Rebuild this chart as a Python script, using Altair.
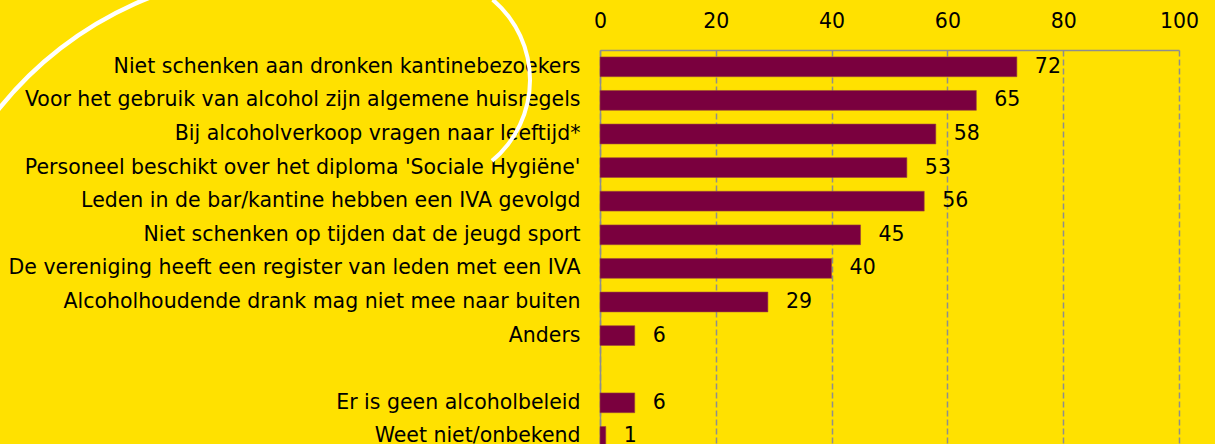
import altair as alt
import pandas as pd

NBSP = "\u00a0"
categories = [
    "Niet schenken aan dronken kantinebezoekers" + NBSP,
    "Voor het gebruik van alcohol zijn algemene huisregels" + NBSP,
    "Bij alcoholverkoop vragen naar leeftijd*",
    "Personeel beschikt over het diploma 'Sociale Hygiëne'",
    "Leden in de bar/kantine hebben een IVA gevolgd",
    "Niet schenken op tijden dat de jeugd sport",
    "De vereniging heeft een register van leden met een IVA",
    "Alcoholhoudende drank mag niet mee naar buiten",
    "Anders",
    "Er is geen alcoholbeleid",
    "Weet niet/onbekend",
]
values = [72, 65, 58, 53, 56, 45, 40, 29, 6, 6, 1]
BLANK = " "
domain_order = categories[:9] + [BLANK] + categories[9:]
x_ticks = [0, 20, 40, 60, 80, 100]

BG = "#FFE100"
BAR = "#7A003E"
GRID = "#8E8E8E"
FONT = "DejaVu Sans"
FS = 20.5

df = pd.DataFrame({"cat": categories, "val": values})

W = 579
H = 12 * 33.6

y_enc = alt.Y(
    "cat:N",
    sort=domain_order,
    scale=alt.Scale(domain=domain_order, paddingInner=0.41, paddingOuter=0.205),
    axis=alt.Axis(
        title=None, ticks=False, labelFontSize=FS, labelFont=FONT, labelColor="#000000",
        labelLimit=800, labelPadding=20, domainColor=GRID, domainWidth=1.5,
    ),
)
x_enc = alt.X(
    "val:Q",
    scale=alt.Scale(domain=[0, 100], nice=False),
    axis=alt.Axis(
        orient="top", title=None, values=x_ticks, grid=True, gridDash=[6, 3],
        gridColor=GRID, gridWidth=1.5, domainColor=GRID, domainWidth=1.5, ticks=False,
        labelFontSize=FS, labelFont=FONT, labelColor="#000000", labelPadding=18,
        labelFlush=False,
    ),
)

one = alt.Data(values=[{"k": 1}])
arc_left = alt.Chart(one).mark_arc(color="#FFFFFF").encode(
    x=alt.value(-317), y=alt.value(286),
    radius=alt.value(366), radius2=alt.value(361.5),
    theta=alt.value(5.15), theta2=alt.value(6.1),
)
arc_right = alt.Chart(one).mark_arc(color="#FFFFFF").encode(
    x=alt.value(-175), y=alt.value(30),
    radius=alt.value(107), radius2=alt.value(103),
    theta=alt.value(0.7), theta2=alt.value(2.45),
)

bars = alt.Chart(df).mark_bar(color=BAR, stroke="#9A4A3A", strokeWidth=0.6).encode(
    x=x_enc, y=y_enc
)
labels = alt.Chart(df).mark_text(
    align="left", baseline="middle", dx=18, fontSize=FS, font=FONT, color="#000000"
).encode(x="val:Q", y=alt.Y("cat:N", sort=domain_order), text="val:Q")

chart = alt.layer(arc_left, arc_right, bars, labels).properties(
    width=W, height=H,
    autosize=alt.AutoSizeParams(type="none"),
    padding={"left": 600, "top": 50, "right": 36, "bottom": 0},
    background=BG,
).configure_view(stroke=None)

chart.save("out.html", embed_options={"renderer": "svg", "actions": False})
